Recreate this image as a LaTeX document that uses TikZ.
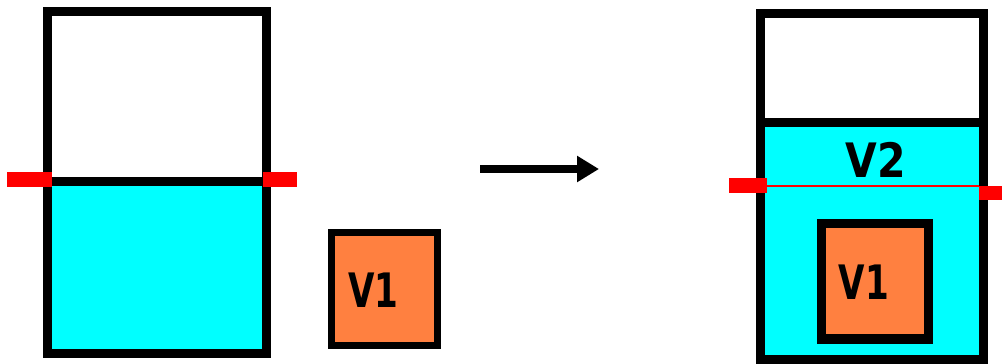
\documentclass[tikz,border=0pt]{standalone}
\usepackage{fontspec}
\setmainfont{DejaVu Sans}
\usetikzlibrary{arrows.meta}
\definecolor{water}{RGB}{0,255,255}
\definecolor{block}{RGB}{255,128,64}
\definecolor{levelred}{RGB}{255,0,0}
\begin{document}
\begin{tikzpicture}[wall/.style={line width=0.18cm},
  vlabel/.style={font=\fontsize{27}{29}\selectfont\bfseries, inner sep=0pt, xscale=0.72}]
\useasboundingbox (0,0) rectangle (20.04,7.26);
% before: tank and the block beside it
\fill[water] (0.95,0.2) rectangle (5.33,3.64);
\draw[wall] (0.95,0.2) rectangle (5.33,7.04);
\draw[wall] (0.95,3.64) -- (5.33,3.64);
\fill[levelred] (0.14,3.52) rectangle (1.04,3.82);
\fill[levelred] (5.26,3.52) rectangle (5.94,3.82);
\draw[line width=0.14cm,fill=block] (6.63,0.35) rectangle (8.75,2.61);
\node[vlabel] (v1a) at (7.47,1.46) {V1};
% arrow
\coordinate (from) at (9.6,3.88);
\coordinate (to) at (11.98,3.88);
\draw[line width=0.16cm,-{Triangle[length=0.44cm,width=0.5cm]}] (from) -- (to);
% after: block sunk in the tank
\fill[water] (15.21,0.07) rectangle (19.67,4.82);
\draw[wall] (15.21,0.07) rectangle (19.67,6.99);
\draw[wall] (15.21,4.82) -- (19.67,4.82);
\node[vlabel,xscale=1.2] (v2) at (17.52,4.07) {V2};
\draw[levelred,line width=0.6pt] (15.34,3.54) -- (19.58,3.54);
\fill[levelred] (14.58,3.40) rectangle (15.34,3.70);
\fill[levelred] (19.58,3.26) rectangle (20.04,3.54);
\draw[line width=0.19cm,fill=block] (16.43,0.48) rectangle (18.57,2.79);
\node[vlabel] (v1b) at (17.28,1.61) {V1};
\end{tikzpicture}
\end{document}
